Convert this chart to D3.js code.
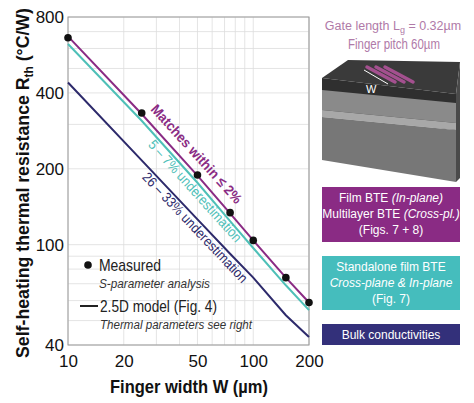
<!DOCTYPE html>
<html><head><meta charset="utf-8">
<script src="https://cdn.jsdelivr.net/npm/d3@7"></script>
<style>
body{margin:0;background:#fff}
text{font-family:"Liberation Sans",Arial,sans-serif}
</style></head><body>
<svg id="c" width="474" height="403"></svg>
<script>
// data
const widths = [10, 25, 50, 75, 100, 150, 200];
const measured = [662, 333, 189, 134, 104, 74, 59];
const filmBTE = [670, 330, 188, 133, 104, 74, 59];
const standalone = [625, 310, 176, 124, 97, 69, 55];
const bulk = [440, 216, 126, 92, 74, 52.5, 43];
const xTicks = [10, 20, 50, 100, 200];
const yTicks = [40, 100, 200, 400, 800];

const svg = d3.select("#c");
const x = d3.scaleLog().domain([10, 200]).range([68, 309]);
const y = d3.scaleLog().domain([40, 800]).range([345, 17]);

// condensed-looking text helper
function t(sel, len) {
  return sel.attr("textLength", len).attr("lengthAdjust", "spacingAndGlyphs");
}

// grid
const xg = [];
for (let d = 10; d <= 100; d *= 10) for (let k = 1; k <= 9; k++) if (k * d >= 10 && k * d <= 200) xg.push(k * d);
xg.push(200);
const yg = [];
[10, 100].forEach(d => { for (let k = 1; k <= 9; k++) if (k * d >= 40 && k * d <= 800) yg.push(k * d); });
svg.append("g").selectAll("line").data(xg).join("line")
  .attr("x1", d => x(d)).attr("x2", d => x(d)).attr("y1", 17).attr("y2", 345)
  .attr("stroke", "#ddd").attr("stroke-width", 0.8);
svg.append("g").selectAll("line").data(yg).join("line")
  .attr("y1", d => y(d)).attr("y2", d => y(d)).attr("x1", 68).attr("x2", 309)
  .attr("stroke", "#ddd").attr("stroke-width", 0.8);
svg.append("rect").attr("x", 68).attr("y", 17).attr("width", 241).attr("height", 328)
  .attr("fill", "none").attr("stroke", "#999").attr("stroke-width", 1);

// axes
svg.append("g").attr("transform", "translate(0,345)")
  .call(d3.axisBottom(x).tickValues(xTicks).tickFormat(d3.format("d")).tickSize(0).tickPadding(10))
  .call(g => g.select(".domain").remove())
  .selectAll("text").attr("font-size", 17).attr("fill", "#111");
svg.append("g").attr("transform", "translate(68,0)")
  .call(d3.axisLeft(y).tickValues(yTicks).tickFormat(d3.format("d")).tickSize(0).tickPadding(4))
  .call(g => g.select(".domain").remove())
  .selectAll("text").attr("font-size", 17).attr("fill", "#111");

t(svg.append("text").attr("x", 110).attr("y", 393)
  .attr("font-size", 19).attr("font-weight", "bold").attr("fill", "#111")
  .text('Finger width W (µm)'), 158);
svg.append("text").attr("transform", "translate(29,358) rotate(-90)")
  .attr("font-size", 18).attr("font-weight", "bold").attr("fill", "#111")
  .attr("textLength", 350).attr("lengthAdjust", "spacingAndGlyphs")
  .html('Self-heating thermal resistance R<tspan font-size="12" dy="4">th</tspan><tspan dy="-4"> (°C/W)</tspan>');

// lines
const line = d3.line().x((d, i) => x(widths[i])).y(d => y(d));
[[bulk, "#2d2a6b"], [standalone, "#4ec0b8"], [filmBTE, "#8a2b84"]].forEach(([s, c]) => {
  svg.append("path").datum(s).attr("d", line).attr("fill", "none")
    .attr("stroke", c).attr("stroke-width", 2);
});
svg.append("g").selectAll("circle").data(measured).join("circle")
  .attr("cx", (d, i) => x(widths[i])).attr("cy", d => y(d)).attr("r", 3.8).attr("fill", "#111");

// annotations placed along their line (segment 25-50 µm), offset perpendicular (positive = up-right)
function label(series, w, off, txt, len, color, bold) {
  const x0 = x(widths[1]), y0 = y(series[1]);
  const x1 = x(widths[2]), y1 = y(series[2]);
  const a = Math.atan2(y1 - y0, x1 - x0);
  const f = (x(w) - x0) / (x1 - x0);
  const px = x0 + (x1 - x0) * f + off * Math.sin(a);
  const py = y0 + (y1 - y0) * f - off * Math.cos(a);
  t(svg.append("text").attr("transform", `translate(${px},${py}) rotate(${a * 180 / Math.PI})`)
    .attr("font-size", 14).attr("font-weight", bold ? "bold" : "normal").attr("fill", color).text(txt), len);
}
label(filmBTE, 25.5, 9, "Matches within ≤ 2%", 128, "#8a2b84", true);
label(standalone, 30, -12, "5 – 7% underestimation", 132, "#4ec0b8", false);
label(bulk, 27.8, -12, "26 – 33% underestimation", 146, "#2d2a6b", false);

// legend
svg.append("circle").attr("cx", 88).attr("cy", 265).attr("r", 3.8).attr("fill", "#111");
t(svg.append("text").attr("x", 99).attr("y", 271).attr("font-size", 17).attr("fill", "#222").text("Measured"), 62);
t(svg.append("text").attr("x", 99).attr("y", 288).attr("font-size", 12).attr("font-style", "italic").attr("fill", "#333").text("S-parameter analysis"), 111);
svg.append("line").attr("x1", 80).attr("x2", 98).attr("y1", 306).attr("y2", 306).attr("stroke", "#222").attr("stroke-width", 2);
t(svg.append("text").attr("x", 100).attr("y", 312).attr("font-size", 17).attr("fill", "#222").text("2.5D model (Fig. 4)"), 117);
t(svg.append("text").attr("x", 100).attr("y", 329).attr("font-size", 12).attr("font-style", "italic").attr("fill", "#333").text("Thermal parameters see right"), 152);

// right panel
const pink = "#b07aa8";
svg.append("text").attr("x", 393).attr("y", 30).attr("text-anchor", "middle").attr("font-size", 12.5).attr("fill", pink)
  .html('Gate length L<tspan font-size="9" dy="3">g</tspan><tspan dy="-3"> = 0.32µm</tspan>');
t(svg.append("text").attr("x", 348).attr("y", 49).attr("font-size", 14).attr("fill", pink).text("Finger pitch 60µm"), 92);

const cube = svg.append("g");
cube.append("polygon").attr("points", "322,78 348,60 460,62 456,94").attr("fill", "#3a3a3a");
cube.append("polygon").attr("points", "322,78 456,94 456,130 322,113").attr("fill", "#2f2f2f");
cube.append("polygon").attr("points", "322,90 456,103 456,123 322,110").attr("fill", "#8a8a8a");
cube.append("polygon").attr("points", "322,110 456,123 456,130 322,117").attr("fill", "#a8a8a8");
cube.append("polygon").attr("points", "322,117 456,130 456,182 322,160").attr("fill", "#777");
cube.append("polygon").attr("points", "456,94 460,62 460,178 456,182").attr("fill", "#4a4a4a");
[0, 1, 2].forEach(i => {
  cube.append("line").attr("x1", 367 + i * 9).attr("y1", 67).attr("x2", 395 + i * 9).attr("y2", 82)
    .attr("stroke", "#a4508f").attr("stroke-width", 3.5).attr("stroke-linecap", "round");
});
cube.append("line").attr("x1", 364).attr("y1", 70).attr("x2", 388).attr("y2", 84).attr("stroke", "#fff").attr("stroke-width", 1);
cube.append("text").attr("x", 366).attr("y", 93).attr("font-size", 11).attr("fill", "#fff").text("W");

function box(y0, h, fill, lines) {
  svg.append("rect").attr("x", 322).attr("y", y0).attr("width", 138).attr("height", h).attr("fill", fill);
  lines.forEach((l, i) => svg.append("text").attr("x", 391).attr("y", y0 + 15 + i * 16)
    .attr("text-anchor", "middle").attr("font-size", 12).attr("fill", "#fff").html(l));
}
box(187, 55, "#8a2b84", ['Film BTE <tspan font-style="italic">(In-plane)</tspan>',
  'Multilayer BTE <tspan font-style="italic">(Cross-pl.)</tspan>', '(Figs. 7 + 8)']);
box(256, 54, "#45bdbd", ['Standalone film BTE', '<tspan font-style="italic">Cross-plane &amp; In-plane</tspan>', '(Fig. 7)']);
box(324, 21, "#33307a", ['Bulk conductivities']);
</script></body></html>
